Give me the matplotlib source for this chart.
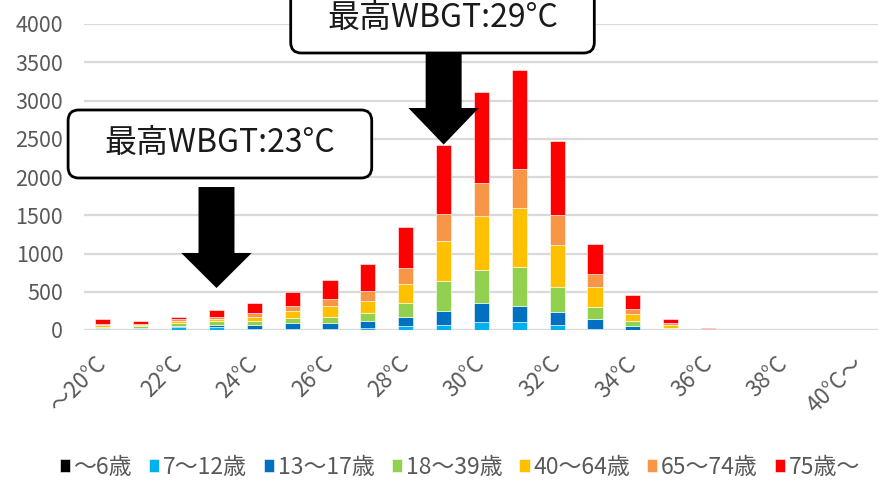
import numpy as np
import matplotlib.pyplot as plt
from matplotlib.patches import FancyBboxPatch, Polygon

plt.rcParams['font.family'] = ['Noto Sans CJK JP', 'DejaVu Sans']

# WBGT categories (20°C and below ... 40°C and above)
temps = ['～20°C'] + [f'{t}°C' for t in range(21, 40)] + ['40°C～']

# counts per age group for each WBGT category
age_0_6 = [2, 2, 3, 3, 3, 3, 3, 4, 5, 5, 6, 6, 4, 2, 1, 0, 0, 0, 0, 0, 0]
age_7_12 = [8, 10, 35, 30, 8, 8, 8, 26, 43, 65, 101, 101, 65, 10, 2, 1, 0, 0, 0, 0, 0]
age_13_17 = [12, 20, 20, 35, 55, 80, 80, 92, 127, 175, 249, 213, 162, 130, 50, 10, 1, 0, 0, 0, 0]
age_18_39 = [17, 14, 30, 44, 53, 69, 82, 101, 175, 393, 423, 498, 336, 157, 66, 17, 1, 0, 0, 0, 0]
age_40_64 = [22, 17, 32, 31, 52, 83, 144, 161, 245, 529, 707, 773, 546, 262, 92, 31, 3, 0, 0, 0, 0]
age_65_74 = [22, 18, 22, 21, 49, 65, 88, 127, 213, 353, 442, 511, 384, 175, 65, 31, 4, 0, 0, 0, 0]
age_75 = [57, 39, 31, 101, 131, 184, 249, 354, 533, 899, 1178, 1293, 974, 389, 179, 52, 22, 0, 0, 0, 0]

series = [
    ('～6歳', age_0_6, '#000000'),
    ('7～12歳', age_7_12, '#00B0F0'),
    ('13～17歳', age_13_17, '#0070C0'),
    ('18～39歳', age_18_39, '#92D050'),
    ('40～64歳', age_40_64, '#FFC000'),
    ('65～74歳', age_65_74, '#F79646'),
    ('75歳～', age_75, '#FF0000'),
]

x = np.arange(len(temps))
grey = '#595959'

fig = plt.figure(figsize=(8.79, 4.82), dpi=100)
ax = fig.add_axes([84 / 879, 152 / 482, 795 / 879, 306 / 482])

bottom = np.zeros(len(temps))
for label, values, color in series:
    ax.bar(x, values, 0.4, bottom=bottom, color=color, label=label,
           edgecolor='white', linewidth=0.4)
    bottom += np.array(values)
totals = bottom

ax.set_xlim(-0.5, len(temps) - 0.5)
ax.set_ylim(0, 4000)
ax.set_yticks(np.arange(0, 4001, 500))
ax.yaxis.grid(True, color='#D9D9D9', linewidth=1.6)
ax.set_axisbelow(True)
for s in ax.spines.values():
    s.set_visible(False)
ax.tick_params(axis='both', length=0, labelcolor=grey, labelsize=15.5)
ax.tick_params(axis='y', pad=15)

ax.set_xticks(x[::2])
ax.set_xticklabels(temps[::2], rotation=45, ha='right', va='center',
                   rotation_mode='anchor')
ax.tick_params(axis='x', pad=22, labelsize=16)

# callout boxes with block arrows
aspect = (795 / len(temps)) / (306 / 4000)


def callout(cx, box_x0, box_x1, box_y0, box_y1, text, text_y, shaft_top, head_base, tip):
    box = FancyBboxPatch((box_x0, box_y0), box_x1 - box_x0, box_y1 - box_y0,
                         boxstyle='round,pad=0,rounding_size=0.28',
                         mutation_aspect=aspect, facecolor='white',
                         edgecolor='black', linewidth=2, clip_on=False, zorder=5)
    ax.add_patch(box)
    ax.text((box_x0 + box_x1) / 2, text_y, text, fontsize=23, color='#1a1a1a',
            ha='center', va='center', zorder=6, clip_on=False)
    sw, hw = 0.475, 0.93
    arrow = Polygon([(cx - sw, shaft_top), (cx + sw, shaft_top), (cx + sw, head_base),
                     (cx + hw, head_base), (cx, tip), (cx - hw, head_base),
                     (cx - sw, head_base)], closed=True, facecolor='black',
                    edgecolor='none', clip_on=False, zorder=4)
    ax.add_patch(arrow)


callout(3, -0.92, 7.10, 1987, 2876, '最高WBGT:23°C', 2440, 1869, 1007, 549)
callout(9, 4.96, 12.98, 3621, 4650, '最高WBGT:29°C', 4078, 3621, 2902, totals[9] + 5)

fig.legend(loc='center', bbox_to_anchor=(0.523, 0.031), ncol=7, frameon=False,
           fontsize=16.5, labelcolor=grey, handlelength=0.45, handleheight=0.45,
           handletextpad=0.15, columnspacing=0.75, borderaxespad=0)

fig.savefig('out.png', dpi=100)
